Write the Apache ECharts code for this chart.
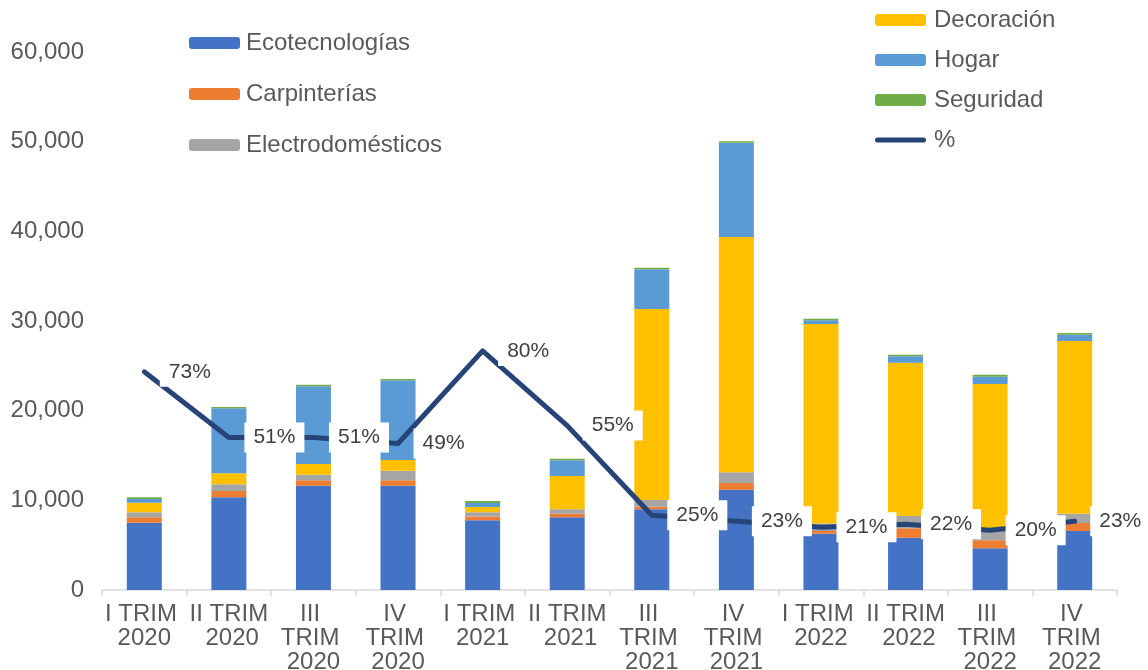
<!DOCTYPE html>
<html>
<head>
<meta charset="utf-8">
<script src="https://cdn.jsdelivr.net/npm/echarts@6/dist/echarts.min.js"></script>
<style>
html,body{margin:0;padding:0;background:#fff;}
#chart{width:1148px;height:670px;}
</style>
</head>
<body>
<div id="chart"></div>
<script>
const categories = ['I TRIM 2020','II TRIM 2020','III TRIM 2020','IV TRIM 2020','I TRIM 2021','II TRIM 2021','III TRIM 2021','IV TRIM 2021','I TRIM 2022','II TRIM 2022','III TRIM 2022','IV TRIM 2022'];
const ecotecnologias = [7500, 10340, 11630, 11630, 7770, 8100, 9000, 11190, 6280, 5830, 4650, 6580];
const carpinterias = [600, 700, 600, 600, 440, 410, 290, 740, 300, 1050, 890, 890];
const electrodomesticos = [560, 740, 630, 1070, 450, 490, 750, 1190, 850, 1370, 1150, 1040];
const decoracion = [1070, 1230, 1190, 1200, 590, 3710, 21290, 26240, 22230, 17100, 16280, 19250];
const hogar = [420, 7250, 8660, 8880, 450, 1750, 4430, 10510, 410, 710, 820, 710];
const seguridad = [190, 140, 180, 150, 220, 180, 180, 190, 180, 180, 220, 190];
const porcentaje = [0.73, 0.51, 0.51, 0.49, 0.80, 0.55, 0.25, 0.23, 0.21, 0.22, 0.20, 0.23];

const FONT = 'Liberation Sans';
const TXT = '#595959';

function barSeries(name, data, color) {
  return {
    name: name, type: 'bar', stack: 'total', data: data, barWidth: 35,
    itemStyle: { color: color }, emphasis: { disabled: true }
  };
}

const chart = echarts.init(document.getElementById('chart'), null, { renderer: 'canvas' });
chart.setOption({
  animation: false,
  backgroundColor: '#ffffff',
  textStyle: { fontFamily: FONT },
  grid: { left: 102, right: 31, top: 52, bottom: 80, containLabel: false, outerBoundsMode: 'none' },
  legend: [
    {
      orient: 'vertical', left: 189, top: 31, padding: 0, itemWidth: 51, itemHeight: 12, itemGap: 27,
      textStyle: { fontFamily: FONT, fontSize: 24, color: TXT, lineHeight: 24, padding: [0, 0, 0, 1] },
      data: ['Ecotecnologías', 'Carpinterías', 'Electrodomésticos']
    },
    {
      orient: 'vertical', left: 875, top: 8, padding: 0, itemWidth: 51, itemHeight: 12, itemGap: 16,
      textStyle: { fontFamily: FONT, fontSize: 24, color: TXT, lineHeight: 24, padding: [0, 0, 0, 3] },
      data: ['Decoración', 'Hogar', 'Seguridad',
        { name: '%', icon: 'path://M2.5,0 L47.5,0 A2.5,2.5 0 0 1 47.5,5 L2.5,5 A2.5,2.5 0 0 1 2.5,0 Z' }]
    }
  ],
  xAxis: {
    type: 'category', data: categories, boundaryGap: true,
    axisLine: { lineStyle: { color: '#D9D9D9', width: 1.5 } },
    axisTick: { show: true, length: 6, lineStyle: { color: '#D9D9D9', width: 1.5 } },
    axisLabel: {
      interval: 0, fontFamily: FONT, fontSize: 24, color: TXT, lineHeight: 24, margin: 12,
      width: 84, overflow: 'break', align: 'center'
    }
  },
  yAxis: [
    {
      type: 'value', min: 0, max: 60000, interval: 10000,
      axisLine: { show: false }, axisTick: { show: false }, splitLine: { show: false },
      axisLabel: {
        fontFamily: FONT, fontSize: 24, color: TXT, margin: 18,
        formatter: function (v) { return v.toLocaleString('en-US'); }
      }
    },
    { type: 'value', min: 0, max: 1.8, show: false, splitLine: { show: false } }
  ],
  series: [
    barSeries('Ecotecnologías', ecotecnologias, '#4472C4'),
    barSeries('Carpinterías', carpinterias, '#ED7D31'),
    barSeries('Electrodomésticos', electrodomesticos, '#A5A5A5'),
    barSeries('Decoración', decoracion, '#FFC000'),
    barSeries('Hogar', hogar, '#5B9BD5'),
    barSeries('Seguridad', seguridad, '#70AD47'),
    {
      name: '%', type: 'line', yAxisIndex: 1, data: porcentaje, z: 5,
      symbol: 'circle', symbolSize: 1, showSymbol: true,
      itemStyle: { color: '#264478' },
      lineStyle: { color: '#264478', width: 5, cap: 'round', join: 'round' },
      emphasis: { disabled: true },
      label: {
        show: true, position: 'right', distance: 15,
        fontFamily: FONT, fontSize: 21, color: '#404040',
        backgroundColor: '#ffffff', padding: [5, 9, 4, 9],
        formatter: function (p) { return Math.round(p.value * 100) + '%'; }
      }
    }
  ]
});
</script>
</body>
</html>
